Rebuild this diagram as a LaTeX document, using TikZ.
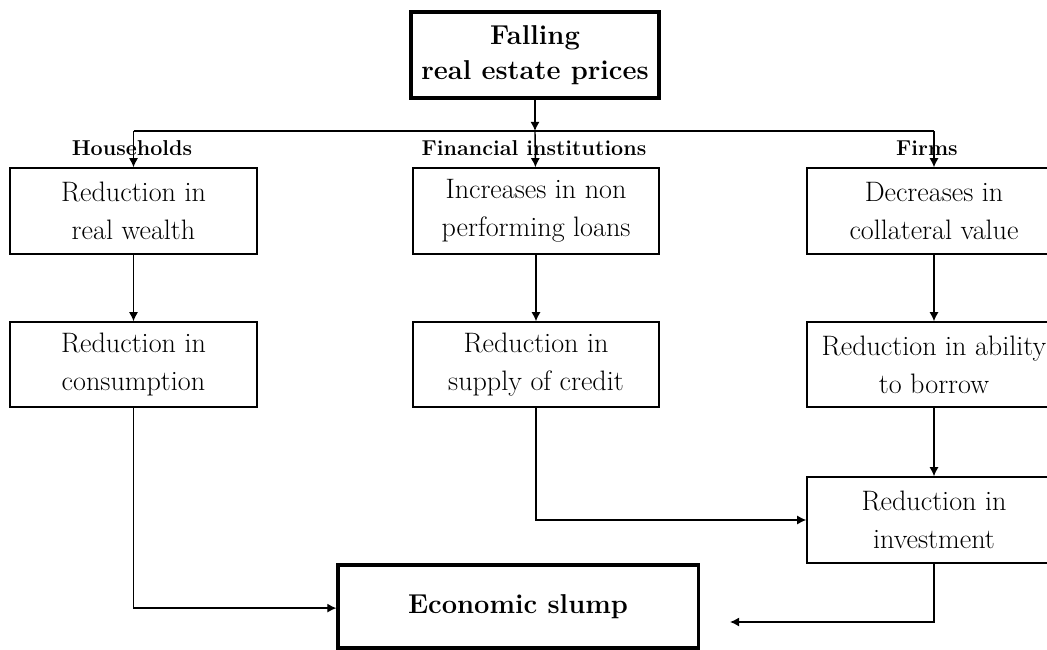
\documentclass[tikz,border=0pt]{standalone}
\usepackage{tikz}
\usetikzlibrary{arrows.meta}
\tikzset{
    box/.style={draw, line width=1pt, align=center, inner sep=0pt,
        minimum height=2.15cm, font=\fontsize{20}{27}\selectfont},
    bigbox/.style={draw, line width=2.2pt, align=center, inner sep=0pt,
        font=\fontsize{19.4}{25}\selectfont\bfseries},
    grp/.style={inner sep=0pt, font=\fontsize{15.3}{17}\selectfont\bfseries},
    arr/.style={-{Latex[length=6.5pt,width=6.5pt]}, line width=1pt},
}

\begin{document}
\begin{tikzpicture}[x=0.025cm, y=-0.025cm]
            \useasboundingbox (0,0) rectangle (1047,650);
            % 顶部的方框
            \node[bigbox, minimum width=6.2cm, minimum height=2.15cm] (fall) at (535,55)
                {Falling\\real estate prices};
            % 三列: households, financial institutions, firms
            \node[box, minimum width=6.175cm] (wealth) at (133.5,211) {Reduction in\\real wealth};
            \node[box, minimum width=6.15cm] (npl) at (536,211) {Increases in non\\performing loans};
            \node[box, minimum width=6.35cm] (collat) at (934,211) {Decreases in\\collateral value};
            \node[box, minimum width=6.175cm, minimum height=2.125cm] (consum) at (133.5,364.5)
                {Reduction in\\consumption};
            \node[box, minimum width=6.15cm, minimum height=2.125cm] (credit) at (536,364.5)
                {Reduction in\\supply of credit};
            \node[box, minimum width=6.35cm, minimum height=2.125cm] (borrow) at (934,364.5)
                {Reduction in ability\\to borrow};
            \node[box, minimum width=6.35cm] (invest) at (934,520) {Reduction in\\investment};
            \node[bigbox, minimum width=9cm, minimum height=2.075cm] (slump) at (518,606.5)
                {Economic slump};
            % 分支用的coordinate
            \coordinate (split) at (fall.south |- 0,131);
            \coordinate (hhL) at (wealth.north |- split);
            \coordinate (hhR) at (collat.north |- split);
            \coordinate (slumpend) at (730,622);
            \draw[arr] (fall) -- (split);
            \draw[line width=1pt] (hhL) -- (hhR);
            \draw[arr] (hhL) -- (wealth);
            \draw[arr] (split) -- (npl);
            \draw[arr] (hhR) -- (collat);
            \node[grp] (hh) at (132,148) {Households};
            \node[grp] (fi) at (534,148) {Financial institutions};
            \node[grp] (firms) at (927,148) {Firms};
            \draw[arr] (wealth) -- (consum);
            \draw[arr] (npl) -- (credit);
            \draw[arr] (collat) -- (borrow);
            \draw[arr] (borrow) -- (invest);
            \draw[arr] (credit.south) |- (invest.west);
            \draw[arr] (consum.south) |- ([yshift=-0.04cm]slump.west);
            \draw[arr] (invest.south) |- (slumpend);
\end{tikzpicture}
\end{document}
